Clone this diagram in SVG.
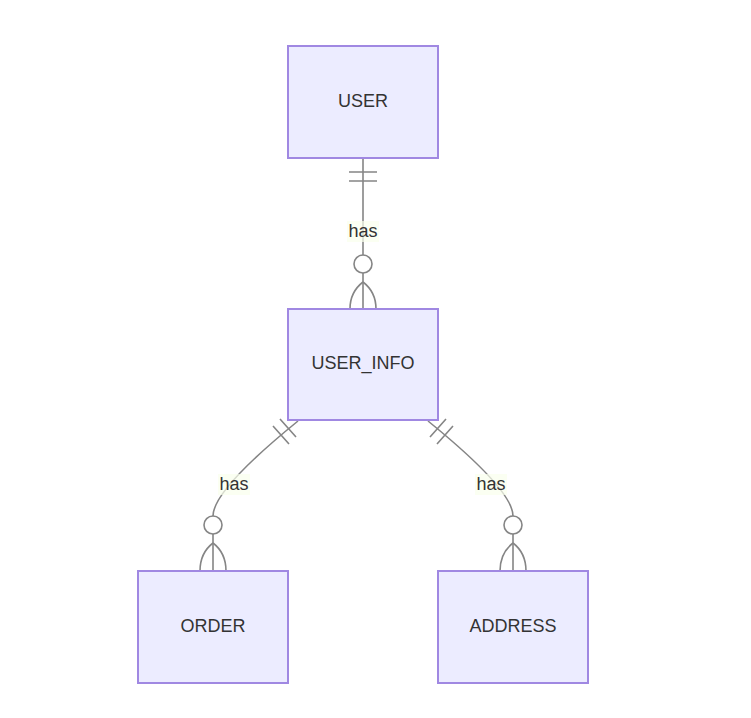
<svg xmlns="http://www.w3.org/2000/svg" width="751" height="718" viewBox="0 0 751 718">
<style>
.box{fill:#ECECFF;stroke:#a088e2;stroke-width:2}
.lbl{font-family:"Liberation Sans",Arial,sans-serif;font-size:18px;fill:#333;text-anchor:middle;dominant-baseline:central}
.edge{fill:none;stroke:#858585;stroke-width:1.6}
.circ{fill:#fff;stroke:#858585;stroke-width:1.6}
.lblbg{fill:#f9ffec;opacity:0.7}
</style>
<rect width="751" height="718" fill="#fff"/>
<g id="connectors">
  <g id="e1">
    <path class="edge" d="M363,158 L363,309"/>
    <path class="edge" d="M349,172 L377,172 M349,181 L377,181"/>
    <circle class="circ" cx="363" cy="264" r="9"/>
    <path class="edge" d="M363,282 Q350,292 350,309 M363,282 Q376,292 376,309"/>
    <rect class="lblbg" x="347" y="221" width="32" height="21"/>
    <text class="lbl" x="363" y="231">has</text>
  </g>
  <g id="e2">
    <path class="edge" d="M298,421 Q213,490 213,516 L213,571"/>
    <path class="edge" d="M280,419 L296,437 M273,426 L289,444"/>
    <circle class="circ" cx="213" cy="525" r="9"/>
    <path class="edge" d="M213,543 Q200,553 200,571 M213,543 Q226,553 226,571"/>
    <rect class="lblbg" x="218" y="474" width="32" height="21"/>
    <text class="lbl" x="234" y="484">has</text>
  </g>
  <g id="e3">
    <path class="edge" d="M428,421 Q513,490 513,516 L513,571"/>
    <path class="edge" d="M446,419 L430,437 M453,426 L437,444"/>
    <circle class="circ" cx="513" cy="525" r="9"/>
    <path class="edge" d="M513,543 Q500,553 500,571 M513,543 Q526,553 526,571"/>
    <rect class="lblbg" x="475" y="474" width="32" height="21"/>
    <text class="lbl" x="491" y="484">has</text>
  </g>
</g>
<g id="USER">
  <rect class="box" x="288" y="46" width="150" height="112"/>
  <text class="lbl" x="363" y="101">USER</text>
</g>
<g id="USER_INFO">
  <rect class="box" x="288" y="309" width="150" height="111"/>
  <text class="lbl" x="363" y="363">USER_INFO</text>
</g>
<g id="ORDER">
  <rect class="box" x="138" y="571" width="150" height="112"/>
  <text class="lbl" x="213" y="626">ORDER</text>
</g>
<g id="ADDRESS">
  <rect class="box" x="438" y="571" width="150" height="112"/>
  <text class="lbl" x="513" y="626">ADDRESS</text>
</g>
</svg>
